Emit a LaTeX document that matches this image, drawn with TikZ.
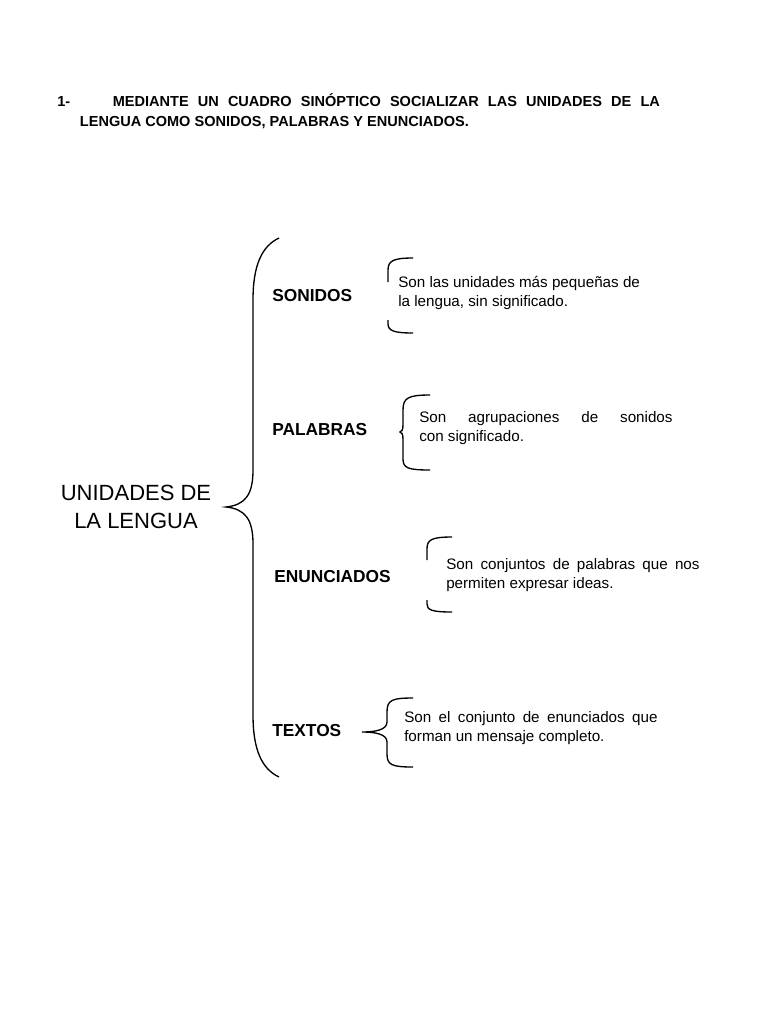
\documentclass[tikz,border=0pt]{standalone}
\usepackage{fontspec}
\setmainfont{Liberation Sans}
\newcommand{\jl}[2]{\makebox[#1][s]{#2}}
\begin{document}
\begin{tikzpicture}[x=0.75pt,y=-0.75pt,
  lbl/.style={anchor=west,font=\fontsize{13}{15}\selectfont\bfseries,inner sep=0},
  desc/.style={anchor=north west,font=\fontsize{11.4}{14.4}\selectfont,inner sep=0,align=left},
  br/.style={line width=1pt}]
\useasboundingbox (0,0) rectangle (768,1024);
\node[anchor=north west,inner sep=0,font=\fontsize{10.9}{15}\selectfont\bfseries,align=left] (title) at (57,93)
 {\jl{452pt}{1-\hspace{32pt}MEDIANTE UN CUADRO SINÓPTICO SOCIALIZAR LAS UNIDADES DE LA}\\\hspace*{17pt}LENGUA COMO SONIDOS, PALABRAS Y ENUNCIADOS.};
\node[align=center,font=\fontsize{16.5}{21}\selectfont,inner sep=0] (main) at (136,507) {UNIDADES DE\\LA LENGUA};
% big brace
\draw[br] (279,238) .. controls (262,246) and (253,265) .. (253,300) -- (253,470)
  .. controls (253,495) and (245,505) .. (226,507)
  .. controls (245,509) and (253,519) .. (253,544) -- (253,715)
  .. controls (253,750) and (262,769) .. (279,777);
\node[lbl] (s) at (272,296) {SONIDOS};
\node[lbl] (p) at (272,430) {PALABRAS};
\node[lbl] (e) at (274,577) {ENUNCIADOS};
\node[lbl] (t) at (272,731) {TEXTOS};
% sonidos bracket
\draw[br] (413,258) .. controls (393,258) and (388,261) .. (388,270) -- (388,282);
\draw[br] (388,320) -- (388,324) .. controls (388,331) and (395,333) .. (413,333);
\node[desc] (sd) at (398,276) {Son las unidades más pequeñas de\\la lengua, sin significado.};
% palabras brace
\draw[br] (430,395) .. controls (408,395) and (403,398) .. (403,410) -- (403,424)
  .. controls (403,430) and (402,432) .. (400,432)
  .. controls (402,432) and (403,434) .. (403,440) -- (403,459)
  .. controls (403,468) and (408,470) .. (430,470);
\node[desc] (pd) at (419,411) {\jl{190pt}{Son agrupaciones de sonidos}\\con significado.};
% enunciados bracket
\draw[br] (452,537) .. controls (431,537) and (427,540) .. (427,549) -- (427,560);
\draw[br] (427,600) -- (427,604) .. controls (427,610) and (432,612) .. (452,612);
\node[desc] (ed) at (446,558) {\jl{190pt}{Son conjuntos de palabras que nos}\\permiten expresar ideas.};
% textos brace
\draw[br] (413,698) .. controls (392,698) and (387,700) .. (387,712) -- (387,722)
  .. controls (387,730) and (375,732) .. (362,732)
  .. controls (375,732) and (387,734) .. (387,742) -- (387,754)
  .. controls (387,765) and (392,767) .. (413,767);
\node[desc] (td) at (404,711) {\jl{190pt}{Son el conjunto de enunciados que}\\forman un mensaje completo.};
\end{tikzpicture}
\end{document}
